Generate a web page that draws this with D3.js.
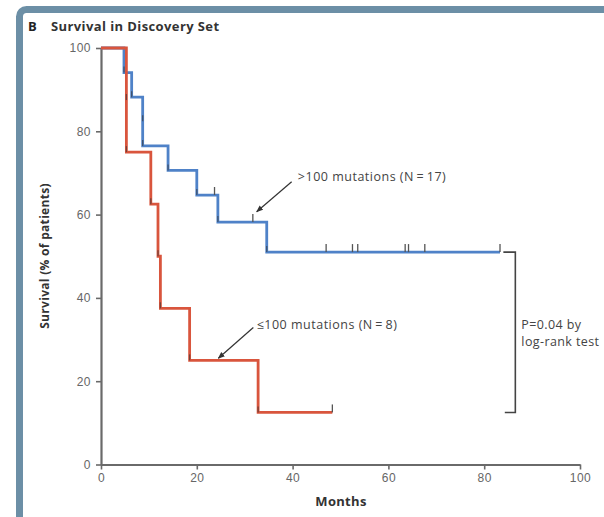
<!DOCTYPE html>
<html>
<head>
<meta charset="UTF-8">
<title>Survival in Discovery Set</title>
<script src="https://cdn.jsdelivr.net/npm/d3@7"></script>
<style>
  body { margin: 0; background: #fff; }
  svg { display: block; font-family: "Open Sans", "DejaVu Sans", sans-serif; }
  .tick text { fill: #666; font-size: 12px; letter-spacing: 0.5px; }
  .tick line, .domain { stroke: #6a6a6a; }
</style>
</head>
<body>
<svg id="chart" width="604" height="517"></svg>
<script>
// step data (months, % surviving)
var highMonths = [0, 4.8, 6.4, 8.7, 8.7, 14.0, 20.0, 24.4, 34.6];
var highSurv   = [100, 94.1, 88.2, 82.4, 76.5, 70.6, 64.7, 58.2, 51.0];
var highEnd    = 83.3;
var highCensor = [23.7, 31.7, 47.0, 52.5, 53.6, 63.5, 64.2, 67.6, 83.3];

var lowMonths = [0, 5.3, 5.3, 10.4, 11.9, 12.4, 18.5, 32.8];
var lowSurv   = [100, 87.5, 75, 62.5, 50, 37.5, 25, 12.5];
var lowEnd    = 48.3;
var lowCensor = [48.3];

var xTicks = [0, 20, 40, 60, 80, 100];
var yTicks = [0, 20, 40, 60, 80, 100];

var svg = d3.select('#chart');

var x = d3.scaleLinear().domain([0, 100]).range([101, 580]);
var y = d3.scaleLinear().domain([0, 100]).range([464.5, 48]);

// frame
svg.append('rect')
   .attr('x', 19.5).attr('y', 9.5)
   .attr('width', 700).attr('height', 600)
   .attr('rx', 7)
   .attr('fill', 'none')
   .attr('stroke', '#6c8fa6')
   .attr('stroke-width', 7);

// title
svg.append('text').attr('x', 28).attr('y', 31)
   .attr('font-size', 13).attr('font-weight', 'bold').attr('fill', '#222')
   .text('B');
svg.append('text').attr('x', 51).attr('y', 31)
   .attr('font-size', 13).attr('font-weight', 'bold').attr('fill', '#333')
   .attr('letter-spacing', 0.4)
   .text('Survival in Discovery Set');

// axes
var xAxis = svg.append('g')
   .attr('transform', 'translate(0,' + y(0) + ')')
   .call(d3.axisBottom(x).tickValues(xTicks).tickSize(5).tickSizeOuter(0).tickPadding(4));
var yAxis = svg.append('g')
   .attr('transform', 'translate(' + x(0) + ',0)')
   .call(d3.axisLeft(y).tickValues(yTicks).tickSize(5).tickSizeOuter(0).tickPadding(5));
xAxis.select('.domain').attr('stroke-width', 2.2);
yAxis.select('.domain').attr('stroke-width', 2.2);
svg.selectAll('.tick line').attr('stroke-width', 1.6);

svg.append('text')
   .attr('transform', 'translate(49,256) rotate(-90)')
   .attr('text-anchor', 'middle')
   .attr('font-size', 12).attr('font-weight', 'bold').attr('fill', '#333')
   .attr('letter-spacing', 0.3)
   .text('Survival (% of patients)');
svg.append('text')
   .attr('x', 341).attr('y', 506)
   .attr('text-anchor', 'middle')
   .attr('font-size', 13).attr('font-weight', 'bold').attr('fill', '#333')
   .attr('letter-spacing', 0.3)
   .text('Months');

var line = d3.line()
   .x(function(d){ return x(d[0]); })
   .y(function(d){ return y(d[1]); })
   .curve(d3.curveStepAfter);

function drawCurve(months, surv, end, censor, color) {
  var pts = months.map(function(m, i){ return [m, surv[i]]; });
  pts.push([end, surv[surv.length - 1]]);
  svg.append('path')
     .datum(pts)
     .attr('fill', 'none')
     .attr('stroke', color)
     .attr('stroke-width', 2.8)
     .attr('d', line);

  // dark marks where each death lands on a drop
  svg.selectAll(null)
     .data(pts.slice(1, months.length))
     .enter().append('line')
     .attr('x1', function(d){ return x(d[0]); })
     .attr('x2', function(d){ return x(d[0]); })
     .attr('y1', function(d){ return y(d[1]) - 6; })
     .attr('y2', function(d){ return y(d[1]); })
     .attr('stroke', '#333')
     .attr('stroke-opacity', 0.6)
     .attr('stroke-width', 1.3);

  // censor ticks
  svg.selectAll(null)
     .data(censor)
     .enter().append('line')
     .attr('x1', function(d){ return x(d); })
     .attr('x2', function(d){ return x(d); })
     .attr('y1', function(d){
        var i = d3.bisectRight(months, d) - 1;
        return y(surv[i]) - 8;
     })
     .attr('y2', function(d){
        var i = d3.bisectRight(months, d) - 1;
        return y(surv[i]);
     })
     .attr('stroke', '#555')
     .attr('stroke-width', 1.3);
}

drawCurve(highMonths, highSurv, highEnd, highCensor, '#4f82c8');
drawCurve(lowMonths, lowSurv, lowEnd, lowCensor, '#d9553d');

// arrows + labels
svg.append('defs').append('marker')
   .attr('id', 'head')
   .attr('viewBox', '0 0 10 10')
   .attr('refX', 9).attr('refY', 5)
   .attr('markerWidth', 7).attr('markerHeight', 7)
   .attr('markerUnits', 'userSpaceOnUse')
   .attr('orient', 'auto')
   .append('path').attr('d', 'M0,1 L10,5 L0,9 Z').attr('fill', '#333');

function label(txt, tx, ty, fx, fy, ax, ay) {
  svg.append('line')
     .attr('x1', x(fx)).attr('y1', y(fy))
     .attr('x2', x(ax)).attr('y2', y(ay))
     .attr('stroke', '#333').attr('stroke-width', 1.2)
     .attr('marker-end', 'url(#head)');
  svg.append('text')
     .attr('x', x(tx)).attr('y', y(ty))
     .attr('font-size', 12.5).attr('fill', '#444')
     .attr('letter-spacing', 0.5)
     .text(txt);
}
label('>100 mutations (N\u2009=\u200917)', 41.1, 68.1, 39.8, 67.9, 32.5, 60.7);
label('\u2264100 mutations (N\u2009=\u20098)', 32.5, 32.6, 31.8, 32.9, 24.5, 25.5);

// log-rank bracket
var bx0 = 84, bx1 = 86.5;
var topS = highSurv[highSurv.length - 1], botS = lowSurv[lowSurv.length - 1];
svg.append('path')
   .attr('d', 'M' + x(bx0) + ',' + y(topS) + 'H' + x(bx1) + 'V' + y(botS) + 'H' + x(bx0 + 0.3))
   .attr('fill', 'none')
   .attr('stroke', '#444')
   .attr('stroke-width', 1.6);
svg.append('text').attr('x', x(bx1) + 6).attr('y', 329)
   .attr('font-size', 12.5).attr('fill', '#444').attr('letter-spacing', 0.4).text('P=0.04 by');
svg.append('text').attr('x', x(bx1) + 6).attr('y', 346)
   .attr('font-size', 12.5).attr('fill', '#444').attr('letter-spacing', 0.4).text('log-rank test');
</script>
</body>
</html>
